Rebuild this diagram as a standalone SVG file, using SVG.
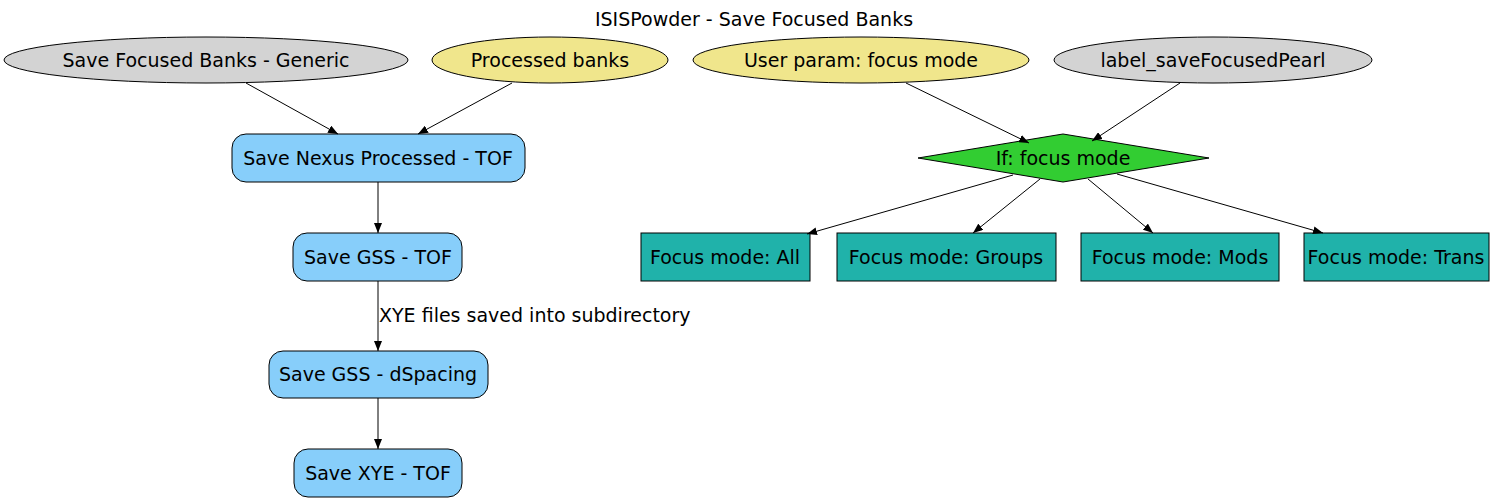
<svg xmlns="http://www.w3.org/2000/svg" width="1509" height="503" viewBox="0 0 1509 503">
<style>
text{font-family:"DejaVu Sans",sans-serif;font-size:19px;fill:#000;text-anchor:middle;dominant-baseline:central}
.n{stroke:#000;stroke-width:1}
.e{stroke:#000;stroke-width:1;fill:none;marker-end:url(#ah)}
</style>
<defs>
<marker id="ah" viewBox="0 0 10 8" refX="10" refY="4" markerWidth="10" markerHeight="8" markerUnits="userSpaceOnUse" orient="auto">
<path d="M0,0 L10,4 L0,8 z" fill="#000"/>
</marker>
</defs>
<rect width="1509" height="503" fill="#fff"/>
<text x="754" y="19">ISISPowder - Save Focused Banks</text>
<g id="generic"><ellipse class="n" cx="206" cy="60" rx="202" ry="23" fill="#d3d3d3"/><text x="206" y="60">Save Focused Banks - Generic</text></g>
<g id="banks"><ellipse class="n" cx="550" cy="60" rx="118" ry="23" fill="#f0e68c"/><text x="550" y="60">Processed banks</text></g>
<g id="param"><ellipse class="n" cx="861" cy="60" rx="168" ry="23" fill="#f0e68c"/><text x="861" y="60">User param: focus mode</text></g>
<g id="label"><ellipse class="n" cx="1213" cy="60" rx="159" ry="23" fill="#d3d3d3"/><text x="1213" y="60">label_saveFocusedPearl</text></g>
<g id="nexus"><rect class="n" x="232" y="134" width="293" height="48" rx="14" fill="#87cefa"/><text x="378" y="158">Save Nexus Processed - TOF</text></g>
<g id="gsstof"><rect class="n" x="293" y="233" width="169" height="48" rx="14" fill="#87cefa"/><text x="378" y="257">Save GSS - TOF</text></g>
<g id="gssd"><rect class="n" x="269" y="351" width="219" height="47" rx="14" fill="#87cefa"/><text x="378" y="374">Save GSS - dSpacing</text></g>
<g id="xye"><rect class="n" x="294" y="449" width="168" height="48" rx="14" fill="#87cefa"/><text x="378" y="473">Save XYE - TOF</text></g>
<g id="ifmode"><polygon class="n" points="1063,134 1209,158 1063,182 918,158" fill="#32cd32"/><text x="1063" y="158">If: focus mode</text></g>
<g id="all"><rect class="n" x="641" y="233" width="169" height="48" fill="#20b2aa"/><text x="725" y="257">Focus mode: All</text></g>
<g id="groups"><rect class="n" x="837" y="233" width="219" height="48" fill="#20b2aa"/><text x="946" y="257">Focus mode: Groups</text></g>
<g id="mods"><rect class="n" x="1081" y="233" width="198" height="48" fill="#20b2aa"/><text x="1180" y="257">Focus mode: Mods</text></g>
<g id="trans"><rect class="n" x="1304" y="233" width="185" height="48" fill="#20b2aa"/><text x="1396" y="257">Focus mode: Trans</text></g>
<g id="edges">
<line class="e" x1="246" y1="83" x2="338" y2="134"/>
<line class="e" x1="512" y1="83" x2="418" y2="134"/>
<line class="e" x1="906" y1="83" x2="1029" y2="143"/>
<line class="e" x1="1180" y1="83" x2="1092" y2="141"/>
<line class="e" x1="378" y1="182" x2="378" y2="233"/>
<line class="e" x1="378" y1="281" x2="378" y2="351"/>
<text x="379" y="315" style="text-anchor:start">XYE files saved into subdirectory</text>
<line class="e" x1="378" y1="398" x2="378" y2="449"/>
<line class="e" x1="1013" y1="175" x2="807" y2="234"/>
<line class="e" x1="1040" y1="179" x2="973" y2="233"/>
<line class="e" x1="1088" y1="179" x2="1153" y2="233"/>
<line class="e" x1="1117" y1="174" x2="1323" y2="233"/>
</g>
</svg>
